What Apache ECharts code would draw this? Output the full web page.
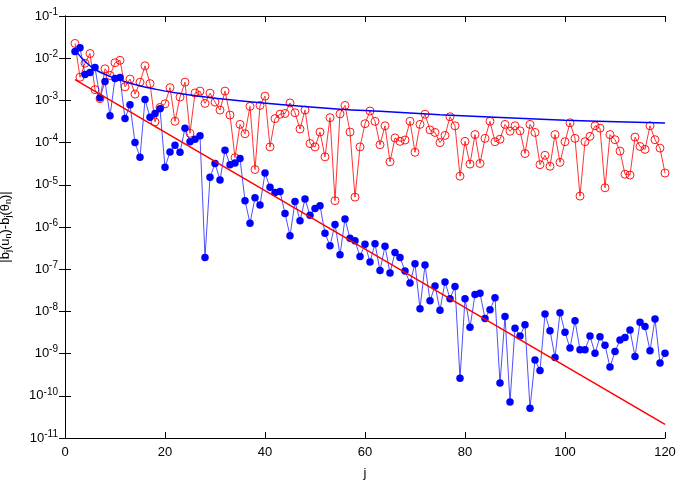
<!DOCTYPE html>
<html>
<head>
<meta charset="utf-8">
<script src="https://cdn.jsdelivr.net/npm/echarts@6/dist/echarts.min.js"></script>
<style>
html,body{margin:0;padding:0;background:#fff;}
#chart{width:688px;height:482px;}
</style>
</head>
<body>
<div id="chart"></div>
<script>
// j index for both data series
var jValues = [];
for (var k = 2; k <= 120; k++) jValues.push(k);

// red open circles: |b_j(u_n)-b_j(theta_n)| (upper series)
var redValues = [
2.24e-2,3.55e-3,7.6e-3,1.29e-2,1.8e-3,1.1e-3,5.6e-3,3.9e-3,7.8e-3,8.9e-3,
2.1e-3,3.2e-3,1.41e-3,2.7e-3,6.6e-3,2.5e-3,3.1e-4,6.8e-4,8.3e-4,2.0e-3,
3.2e-4,1.2e-3,2.7e-3,1.66e-4,1.5e-3,1.66e-3,8.5e-4,1.48e-3,9.1e-4,5.9e-4,
1.66e-3,4.5e-4,4.4e-5,2.7e-4,1.62e-4,7.2e-4,2.3e-5,7.6e-4,1.26e-3,7.9e-5,
3.7e-4,4.7e-4,4.9e-4,8.7e-4,5.1e-4,2.1e-4,5.9e-4,9.5e-5,7.9e-5,1.78e-4,
4.6e-5,3.9e-4,4.2e-6,4.8e-4,7.6e-4,1.78e-4,5.1e-6,7.9e-5,2.8e-4,5.6e-4,
3.2e-4,8.9e-5,2.5e-4,3.5e-5,1.29e-4,1.07e-4,1.15e-4,3.2e-4,5.9e-5,2.7e-4,
4.7e-4,2.0e-4,1.74e-4,1.0e-4,1.48e-4,4.1e-4,2.5e-4,1.6e-5,1.07e-4,3.1e-5,
1.55e-4,3.2e-5,1.26e-4,3.2e-4,1.05e-4,1.2e-4,2.7e-4,1.86e-4,2.5e-4,1.9e-4,
5.5e-5,2.7e-4,1.74e-4,3.0e-5,5.0e-5,2.75e-5,1.55e-4,3.4e-5,1.05e-4,2.95e-4,
1.26e-4,5.4e-6,1.05e-4,1.41e-4,2.5e-4,2.2e-4,8.5e-6,1.55e-4,1.17e-4,6.3e-5,
1.78e-5,1.7e-5,1.35e-4,8.1e-5,6.9e-5,2.5e-4,1.17e-4,7.4e-5,1.9e-5
];

// blue filled circles (lower series)
var blueValues = [
1.45e-2,1.78e-2,4.1e-3,4.6e-3,6.0e-3,1.15e-3,2.8e-3,4.3e-4,3.3e-3,3.5e-3,
3.7e-4,7.9e-4,1.0e-4,4.5e-5,1.05e-3,4.0e-4,4.9e-4,6.3e-4,2.6e-5,6.0e-5,
8.7e-5,5.9e-5,2.2e-4,1.05e-4,1.2e-4,1.45e-4,1.9e-7,1.5e-5,3.2e-5,1.3e-5,
6.6e-5,3.0e-5,3.3e-5,4.2e-5,4.2e-6,1.23e-6,4.9e-6,3.3e-6,1.9e-5,8.7e-6,
6.6e-6,6.9e-6,2.1e-6,6.2e-7,4.0e-6,1.41e-6,4.6e-6,1.9e-6,2.75e-6,3.2e-6,
7.1e-7,3.6e-7,1.15e-6,2.2e-7,1.55e-6,5.4e-7,4.7e-7,2.0e-7,3.9e-7,1.48e-7,
4.0e-7,9.3e-8,3.5e-7,8.1e-8,2.5e-7,1.9e-7,9.1e-8,4.7e-8,1.35e-7,1.15e-8,
1.26e-7,1.78e-8,4.0e-8,1.07e-8,5.0e-8,2.0e-8,3.9e-8,2.6e-10,2.0e-8,4.2e-9,
2.5e-8,2.7e-8,6.8e-9,1.1e-8,2.1e-8,2.0e-10,7.6e-9,7.1e-11,4.0e-9,2.6e-9,
4.8e-9,5.1e-11,7.1e-10,4.0e-10,8.7e-9,3.5e-9,8.1e-10,9.3e-9,3.2e-9,1.35e-9,
6.0e-9,1.23e-9,1.23e-9,2.6e-9,1.02e-9,2.5e-9,1.58e-9,4.8e-10,1.12e-9,2.1e-9,
2.4e-9,3.6e-9,8.5e-10,5.5e-9,4.4e-9,1.17e-9,6.6e-9,6.0e-10,1.02e-9
];

// blue fitted curve
var blueFitJ = [2.5,4,6,9,13,18,23,30,43,55,63,75,86,100,120];
var blueFitValues = [1.32e-2,8.4e-3,5.4e-3,3.7e-3,2.55e-3,1.85e-3,1.45e-3,1.12e-3,8.0e-4,6.2e-4,5.5e-4,4.6e-4,4.0e-4,3.4e-4,2.9e-4];

// red fitted straight line (exponential decay), endpoints
var redFitJ = [2,120];
var redFitValues = [3.1e-3,2.1e-11];

// tick labels
var xTicks = [0,20,40,60,80,100,120];
var yExponents = [-11,-10,-9,-8,-7,-6,-5,-4,-3,-2,-1];

function pairs(xs, ys){ var o=[]; for (var i=0;i<xs.length;i++) o.push([xs[i], ys[i]]); return o; }

var FONT = 'Liberation Sans, Arial, Helvetica, sans-serif';
var chart = echarts.init(document.getElementById('chart'), null, {renderer:'canvas'});

var tickStyle = {show:true, inside:true, length:6, lineStyle:{color:'#000', width:1}};
var lineStyleAxis = {show:true, lineStyle:{color:'#000', width:1}};

chart.setOption({
  animation:false,
  backgroundColor:'#fff',
  grid:{left:65, right:23, top:16, bottom:44, containLabel:false, outerBoundsMode:'none'},
  xAxis:[{
    type:'value', min:xTicks[0], max:xTicks[xTicks.length-1], interval:20,
    position:'bottom',
    name:'j', nameLocation:'middle', nameGap:29,
    nameTextStyle:{fontFamily:FONT, fontSize:13, color:'#000'},
    axisLine:lineStyleAxis, axisTick:tickStyle, splitLine:{show:false},
    axisLabel:{fontFamily:FONT, fontSize:13, color:'#000', margin:8}
  },{
    type:'value', min:xTicks[0], max:xTicks[xTicks.length-1], interval:20,
    position:'top',
    axisLine:lineStyleAxis, axisTick:tickStyle, splitLine:{show:false},
    axisLabel:{show:false}
  }],
  yAxis:[{
    type:'log', logBase:10, interval:1,
    min:Math.pow(10, yExponents[0]), max:Math.pow(10, yExponents[yExponents.length-1]),
    position:'left',
    name:'|b{s|j}(u{s|n})-b{s|j}(θ{s|n})|',
    nameLocation:'middle', nameGap:52, nameRotate:90,
    nameTextStyle:{fontFamily:FONT, fontSize:13, color:'#000',
      rich:{s:{fontFamily:FONT, fontSize:9, color:'#000', padding:[6,0,0,0]}}},
    axisLine:lineStyleAxis, axisTick:tickStyle, splitLine:{show:false},
    minorTick:{show:false},
    axisLabel:{
      fontFamily:FONT, fontSize:13, color:'#000', margin:7, showMinLabel:true, showMaxLabel:true,
      formatter:function(v){ var e=Math.round(Math.log10(v)); return '10{sup|'+e+'}'; },
      rich:{sup:{fontFamily:FONT, fontSize:10, color:'#000', padding:[0,0,8,0]}}
    }
  },{
    type:'log', logBase:10, interval:1,
    min:Math.pow(10, yExponents[0]), max:Math.pow(10, yExponents[yExponents.length-1]),
    position:'right',
    axisLine:lineStyleAxis, axisTick:tickStyle, splitLine:{show:false},
    axisLabel:{show:false}
  }],
  series:[
    {
      name:'red data', type:'line', xAxisIndex:0, yAxisIndex:0,
      data:pairs(jValues, redValues),
      symbol:'circle', symbolSize:8, showAllSymbol:true,
      lineStyle:{color:'#ff0000', width:0.8},
      itemStyle:{color:'rgba(255,255,255,0)', borderColor:'#ff0000', borderWidth:0.9},
      emphasis:{disabled:true}, z:2
    },
    {
      name:'blue data', type:'line', xAxisIndex:0, yAxisIndex:0,
      data:pairs(jValues, blueValues),
      symbol:'circle', symbolSize:7.5, showAllSymbol:true,
      lineStyle:{color:'#2222ff', width:0.8},
      itemStyle:{color:'#0000ff', borderWidth:0},
      emphasis:{disabled:true}, z:3
    },
    {
      name:'blue fit', type:'line', xAxisIndex:0, yAxisIndex:0,
      data:pairs(blueFitJ, blueFitValues), smooth:0.4,
      symbol:'none', lineStyle:{color:'#0000ff', width:1.5},
      emphasis:{disabled:true}, z:4
    },
    {
      name:'red fit', type:'line', xAxisIndex:0, yAxisIndex:0,
      data:pairs(redFitJ, redFitValues),
      symbol:'none', lineStyle:{color:'#ff0000', width:1.5},
      emphasis:{disabled:true}, z:4
    }
  ]
});
</script>
</body>
</html>
